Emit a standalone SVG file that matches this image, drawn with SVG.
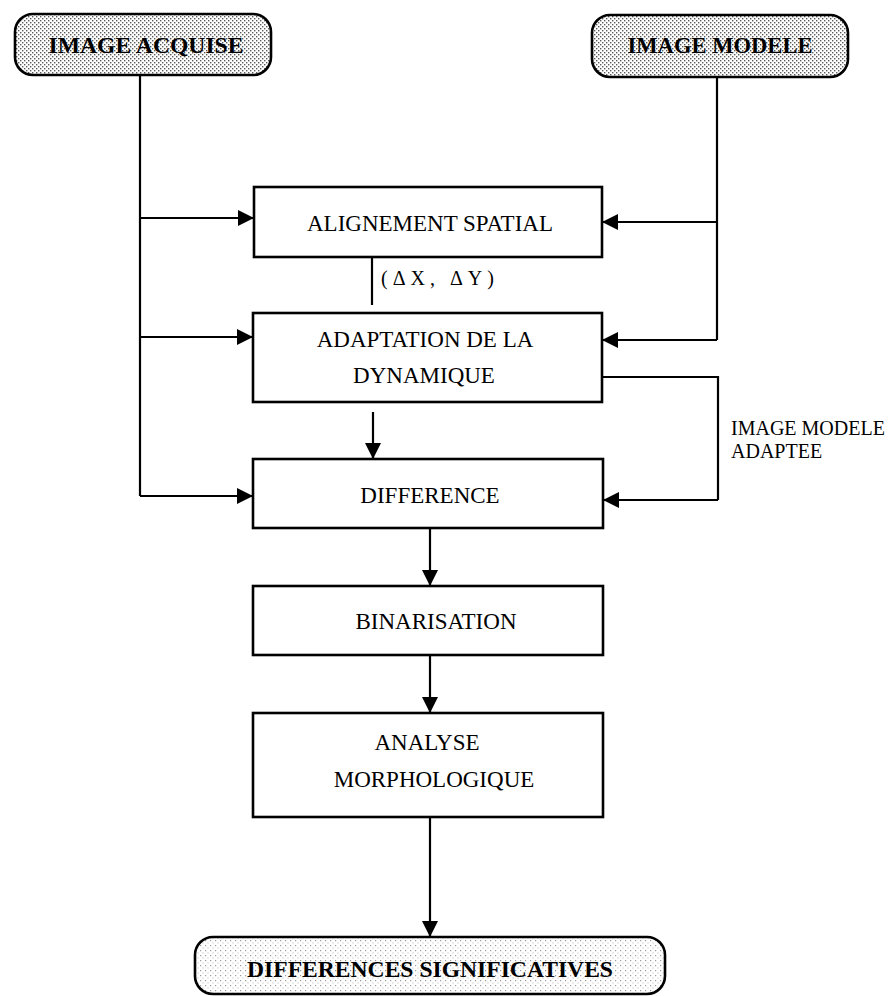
<svg xmlns="http://www.w3.org/2000/svg" width="893" height="996" viewBox="0 0 893 996">
  <defs>
    <pattern id="stip" width="4" height="4" patternUnits="userSpaceOnUse">
      <rect width="4" height="4" fill="#ffffff"/>
      <rect x="0" y="0" width="1.4" height="1.4" fill="#5a5a5a"/>
      <rect x="2" y="2" width="1.4" height="1.4" fill="#5a5a5a"/>
    </pattern>
    <pattern id="stipLight" width="5" height="5" patternUnits="userSpaceOnUse">
      <rect width="5" height="5" fill="#ffffff"/>
      <rect x="0" y="0" width="1.2" height="1.2" fill="#9a9a9a"/>
      <rect x="2.5" y="2.5" width="1" height="1" fill="#b5b5b5"/>
    </pattern>
    <marker id="arr" markerUnits="userSpaceOnUse" markerWidth="18" markerHeight="18" refX="16" refY="8" orient="auto">
      <path d="M0,0 L16,8 L0,16 Z" fill="#000"/>
    </marker>
  </defs>
  <style>
    .term { stroke: #000; stroke-width: 2.6; }
    .box { fill: #fff; stroke: #000; stroke-width: 2.6; }
    .tt { font-family: "Liberation Serif", "Times New Roman", serif; font-weight: bold; font-size: 23px; fill: #000; text-anchor: middle; }
    .lbl { font-family: "Liberation Serif", "Times New Roman", serif; font-size: 23px; fill: #000; text-anchor: middle; }
    .small { font-family: "Liberation Serif", "Times New Roman", serif; font-size: 20px; fill: #000; }
    .conn line, .conn polyline { stroke: #000; stroke-width: 2.2; fill: none; }
  </style>

  <g id="image-acquise">
    <rect class="term" x="15" y="14" width="256" height="61" rx="18" fill="url(#stip)"/>
    <text class="tt" x="146" y="53" textLength="195" lengthAdjust="spacingAndGlyphs">IMAGE  ACQUISE</text>
  </g>

  <g id="image-modele">
    <rect class="term" x="592" y="15" width="256" height="62" rx="18" fill="url(#stip)"/>
    <text class="tt" x="720" y="53" textLength="185" lengthAdjust="spacingAndGlyphs">IMAGE  MODELE</text>
  </g>

  <g id="alignement">
    <rect class="box" x="254" y="187" width="348" height="70"/>
    <text class="lbl" x="430" y="231">ALIGNEMENT  SPATIAL</text>
  </g>

  <g id="adaptation">
    <rect class="box" x="253" y="313" width="349" height="89"/>
    <text class="lbl" x="425" y="347">ADAPTATION DE LA</text>
    <text class="lbl" x="424" y="383">DYNAMIQUE</text>
  </g>

  <g id="difference">
    <rect class="box" x="253" y="459" width="350" height="69"/>
    <text class="lbl" x="430" y="503">DIFFERENCE</text>
  </g>

  <g id="binarisation">
    <rect class="box" x="253" y="586" width="350" height="69"/>
    <text class="lbl" x="436" y="629">BINARISATION</text>
  </g>

  <g id="analyse">
    <rect class="box" x="253" y="713" width="350" height="104"/>
    <text class="lbl" x="427" y="750">ANALYSE</text>
    <text class="lbl" x="434" y="787">MORPHOLOGIQUE</text>
  </g>

  <g id="differences-significatives">
    <rect class="term" x="195" y="937" width="470" height="57" rx="18" fill="url(#stipLight)"/>
    <text class="tt" x="430" y="977" textLength="366" lengthAdjust="spacingAndGlyphs">DIFFERENCES  SIGNIFICATIVES</text>
  </g>

  <g id="connectors" class="conn">
    <line x1="140" y1="75" x2="140" y2="496"/>
    <line x1="140" y1="218" x2="254" y2="218" marker-end="url(#arr)"/>
    <line x1="140" y1="337" x2="253" y2="337" marker-end="url(#arr)"/>
    <line x1="140" y1="496" x2="253" y2="496" marker-end="url(#arr)"/>

    <line x1="717" y1="77" x2="717" y2="340"/>
    <line x1="717" y1="222" x2="602" y2="222" marker-end="url(#arr)"/>
    <line x1="717" y1="340" x2="602" y2="340" marker-end="url(#arr)"/>

    <line x1="372" y1="257" x2="372" y2="305"/>

    <line x1="373" y1="412" x2="373" y2="459" marker-end="url(#arr)"/>

    <polyline points="602,377 718,377 718,500"/>
    <line x1="718" y1="500" x2="603" y2="500" marker-end="url(#arr)"/>

    <line x1="430" y1="528" x2="430" y2="586" marker-end="url(#arr)"/>
    <line x1="430" y1="655" x2="430" y2="713" marker-end="url(#arr)"/>
    <line x1="430" y1="817" x2="430" y2="937" marker-end="url(#arr)"/>
  </g>

  <g id="labels">
    <text class="small" x="381" y="285" font-size="18" letter-spacing="5">(ΔX, ΔY)</text>
    <text class="small" x="731" y="435">IMAGE  MODELE</text>
    <text class="small" x="731" y="458">ADAPTEE</text>
  </g>
</svg>
